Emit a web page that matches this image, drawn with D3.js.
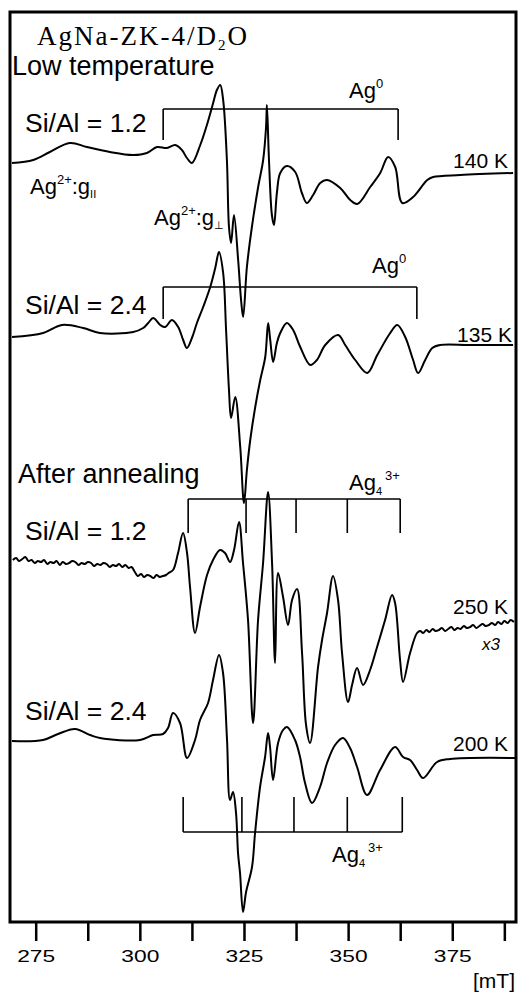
<!DOCTYPE html>
<html><head><meta charset="utf-8">
<script src="https://cdn.jsdelivr.net/npm/d3@7"></script>
<style>body{margin:0;background:#fff}svg{display:block}</style>
</head><body>
<svg id="c" width="520" height="992"></svg>
<script>
// ---------- DATA (field in mT, intensity in arbitrary units) ----------
const spec1Field = [269.3,274.4,278.4,283.2,287.3,292.8,298.4,301.7,304.1,306.5,308.5,310.1,311.3,312.5,314.5,316.1,317.6,318.5,319.3,320.0,320.9,321.4,321.9,322.6,323.6,324.3,324.8,325.7,326.9,328.4,329.6,330.3,330.5,331.0,331.7,332.2,332.9,333.7,335.3,337.3,338.9,340.1,341.6,343.3,344.9,348.1,350.5,352.2,355.3,357.7,359.6,361.3,363.0,365.6,369.0,370.4,376.9,389.6];
const spec1Int   = [0,3,11,20,16,11,8,10,16,15,18,13,5,0,18,38,60,73,78,63,3,-64,-80,-52,-97,-137,-154,-104,-64,-24,3,36,58,3,-52,-62,-30,-10,-3,-9,-30,-40,-32,-20,-17,-25,-37,-41,-24,-10,6,-4,-40,-34,-17,-14,-12,-10];

const spec2Field = [269.3,276.8,281.3,286.4,290.4,298.4,300.8,302.0,303.2,304.9,306.1,307.7,309.2,310.4,311.3,312.5,313.7,315.2,316.9,318.1,319.0,320.0,320.7,321.4,321.9,322.9,324.1,325.0,325.7,326.5,327.7,328.9,330.1,330.8,331.3,332.0,332.9,333.7,335.3,336.8,338.5,340.9,342.5,344.5,347.6,349.3,351.7,354.6,357.0,360.1,361.8,363.7,365.6,366.8,368.5,370.2,372.1,379.3,389.6];
const spec2Int   = [-1,3,11,8,3,4,8,13,18,11,9,16,9,-4,-12,-2,13,29,49,68,84,63,6,-54,-82,-61,-111,-167,-134,-104,-71,-44,-21,13,-4,-26,-7,3,13,6,-11,-29,-24,-9,1,-9,-24,-37,-19,3,11,-1,-24,-37,-24,-12,-9,-9,-9];

const spec3Field = [269.5,270.3,271.0,271.8,272.5,273.3,274.0,274.8,275.5,276.3,277.0,277.8,278.5,279.3,280.0,280.8,281.5,282.3,283.0,283.8,284.5,285.3,286.0,286.8,287.5,288.3,289.0,289.8,290.5,291.3,292.0,292.8,293.5,294.3,295.0,295.8,296.5,297.3,298.0,298.8,299.5,300.3,301.0,301.8,302.5,303.3,304.0,304.8,305.5,306.3,306.9,
  307.97,309.17,310.37,311.33,312.05,313.25,314.45,316.13,317.57,319.25,320.45,321.65,322.61,323.81,324.77,325.97,327.18,328.38,329.58,330.78,331.74,332.46,333.18,334.38,335.58,336.54,337.74,338.94,339.9,340.86,342.78,343.74,344.94,346.38,347.58,348.54,349.98,350.95,352.15,353.59,355.27,356.95,358.87,360.55,361.27,362.47,363.19,364.87,366.55,
  367.3,368.0,368.8,369.5,370.3,371.0,371.8,372.5,373.3,374.0,374.8,375.5,376.3,377.0,377.8,378.5,379.3,380.0,380.8,381.5,382.3,383.0,383.8,384.5,385.3,386.0,386.8,387.5,388.3,389.0,389.8];
const spec3Int   = [0,2,-1,1,3,-1,0,-3,-1,-2,0,-4,-2,-3,-1,-5,-2,-4,-3,-1,-2,-5,-3,-4,-2,-3,-6,-4,-5,-3,-4,-7,-5,-6,-4,-7,-5,-8,-7,-12,-16,-14,-17,-15,-16,-18,-15,-17,-16,-15,-13,
  -10,7,27,7,-27,-73,-47,-15,0,10,7,-2,10,38,-3,-60,-163,-60,-3,68,-3,-103,-13,-37,-65,-40,-29,-93,-165,-183,-107,-80,-53,-16,-40,-93,-142,-125,-108,-125,-110,-87,-60,-35,-43,-100,-122,-93,-73,
  -71,-73,-70,-72,-69,-71,-70,-68,-71,-69,-67,-70,-68,-69,-66,-68,-67,-65,-68,-66,-64,-66,-65,-63,-65,-62,-64,-61,-63,-60,-62];

const spec4Field = [269.31,276.75,280.36,284.44,288.04,290.44,300.04,303.17,305.57,306.77,307.97,309.65,311.33,313.25,314.45,316.37,317.57,319.01,319.97,320.93,321.65,322.37,323.09,323.57,324.05,324.77,325.5,326.93,327.66,328.86,330.06,330.78,331.26,331.98,333.18,334.38,335.34,337.26,338.46,339.66,341.34,343.26,344.94,346.87,348.78,350.47,352.15,354.55,357.67,361.27,363.19,364.87,366.55,367.99,371.36,374.48,390.08];
const spec4Int   = [0,1,7,12,6,3,1,6,7,13,28,18,-17,1,21,38,61,86,68,1,-59,-51,-72,-112,-132,-171,-151,-126,-92,-46,-16,8,-6,-39,-2,11,14,1,-16,-42,-62,-46,-22,-4,3,-7,-26,-54,-29,-6,-16,-19,-29,-37,-21,-18,-17];

// bracket line positions (mT)
const ag0Lines1 = [305.6, 362.0];
const ag0Lines2 = [305.6, 366.5];
const ag4Lines3 = [311.6, 325.5, 337.5, 349.8, 362.5];
const ag4Lines4 = [310.4, 324.5, 337.0, 349.8, 363.0];

const tickValues = [275, 287.5, 300, 312.5, 325, 337.5, 350, 362.5, 375, 387.5];
const tickLabels = ["275", "", "300", "", "325", "", "350", "", "375", ""];

// ---------- LAYOUT ----------
const svg = d3.select('#c');
const FONT = '"Liberation Sans", Arial, Helvetica, sans-serif';
const x = d3.scaleLinear().domain([268.83, 390.3]).range([10, 516]);
const y = d3.scaleLinear().domain([0, 910]).range([922, 12]);

const spectra = [
  {f: spec1Field, v: spec1Int, off: 759},
  {f: spec2Field, v: spec2Int, off: 586},
  {f: spec3Field, v: spec3Int, off: 362},
  {f: spec4Field, v: spec4Int, off: 181}
];

const line = d3.line().x(d => x(d[0])).y(d => y(d[1])).curve(d3.curveCatmullRom.alpha(0.5));

spectra.forEach(s => {
  const pts = d3.zip(s.f, s.v).map(([a, b]) => [a, b + s.off]);
  svg.append('path').attr('d', line(pts))
    .attr('fill', 'none').attr('stroke', '#000')
    .attr('stroke-width', 2).attr('stroke-linejoin', 'round');
});

// brackets
const brackets = [
  {pos: ag0Lines1, off: 759, top: 54, bot: 23},
  {pos: ag0Lines2, off: 586, top: 49, bot: 17},
  {pos: ag4Lines3, off: 362, top: 61, bot: 27},
  {pos: ag4Lines4, off: 181, top: -91, bot: -56}
];
brackets.forEach(b => {
  const g = svg.append('g').attr('stroke', '#000').attr('stroke-width', 1.6).attr('fill', 'none');
  g.append('line').attr('x1', x(d3.min(b.pos))).attr('x2', x(d3.max(b.pos)))
    .attr('y1', y(b.off + b.top)).attr('y2', y(b.off + b.top));
  b.pos.forEach(p => g.append('line').attr('x1', x(p)).attr('x2', x(p))
    .attr('y1', y(b.off + b.top)).attr('y2', y(b.off + b.bot)));
});

// frame
svg.append('rect').attr('x', 10).attr('y', 12).attr('width', 506).attr('height', 910)
  .attr('fill', 'none').attr('stroke', '#000').attr('stroke-width', 3);

// axis
const ax = svg.append('g').attr('transform', 'translate(0,922)')
  .call(d3.axisBottom(x).tickValues(tickValues).tickSize(19)
    .tickFormat((d, i) => tickLabels[i]));
ax.select('.domain').remove();
ax.selectAll('.tick line').attr('stroke', '#000').attr('stroke-width', 2.5);
ax.selectAll('.tick text').attr('fill', '#000').attr('font-family', FONT).attr('font-size', 17)
  .attr('y', 40).attr('dy', 0)
  .each(function(d, i) { if (tickLabels[i]) d3.select(this).attr('textLength', 38).attr('lengthAdjust', 'spacingAndGlyphs'); });

svg.append('text').attr('x', 515).attr('y', 988).attr('text-anchor', 'end')
  .attr('font-family', FONT).attr('font-size', 21).text('[mT]');

// texts
function txt(xp, yp, s, size, anchor) {
  return svg.append('text').attr('x', xp).attr('y', yp).attr('font-family', FONT)
    .attr('font-size', size).attr('text-anchor', anchor || 'start').text(s);
}
// title
const t = svg.append('text').attr('x', 37).attr('y', 45)
  .attr('font-family', '"Liberation Serif", "Times New Roman", serif').attr('font-size', 27)
  .attr('letter-spacing', 2);
t.append('tspan').text('AgNa-ZK-4/D');
t.append('tspan').attr('font-size', 15).attr('dy', 5).text('2');
t.append('tspan').attr('dy', -5).text('O');

txt(12, 75, 'Low temperature', 27);
txt(18, 483, 'After annealing', 27);
txt(25, 132, 'Si/Al = 1.2', 26.5);
txt(25, 314, 'Si/Al = 2.4', 26.5);
txt(25, 540, 'Si/Al = 1.2', 26.5);
txt(25, 720, 'Si/Al = 2.4', 26.5);
txt(508, 168, '140 K', 21, 'end');
txt(512, 342, '135 K', 21, 'end');
txt(508, 614, '250 K', 21, 'end');
txt(508, 751, '200 K', 21, 'end');
txt(482, 650, 'x3', 17).attr('font-style', 'italic');

function agLabel(xp, yp, sup, sub, mid, subFirst) {
  const e = svg.append('text').attr('x', xp).attr('y', yp).attr('font-family', FONT).attr('font-size', 22);
  e.append('tspan').text('Ag');
  if (subFirst) {
    e.append('tspan').attr('font-size', 11).attr('dy', 5).text(subFirst);
    e.append('tspan').attr('font-size', 13).attr('dy', -15).attr('dx', 3).text(sup);
  } else {
    e.append('tspan').attr('font-size', 13).attr('dy', -10).text(sup);
    if (mid) {
      e.append('tspan').attr('dy', 10).text(mid);
      e.append('tspan').attr('font-size', 11).attr('dy', 4).text(sub);
    }
  }
  return e;
}
agLabel(30, 194, '2+', 'II', ':g');
agLabel(154, 225, '2+', '\u22A5', ':g');
agLabel(349, 98, '0');
agLabel(372, 273, '0');
agLabel(349, 490, '3+', null, null, '4');
agLabel(332, 862, '3+', null, null, '4');
</script>
</body></html>
